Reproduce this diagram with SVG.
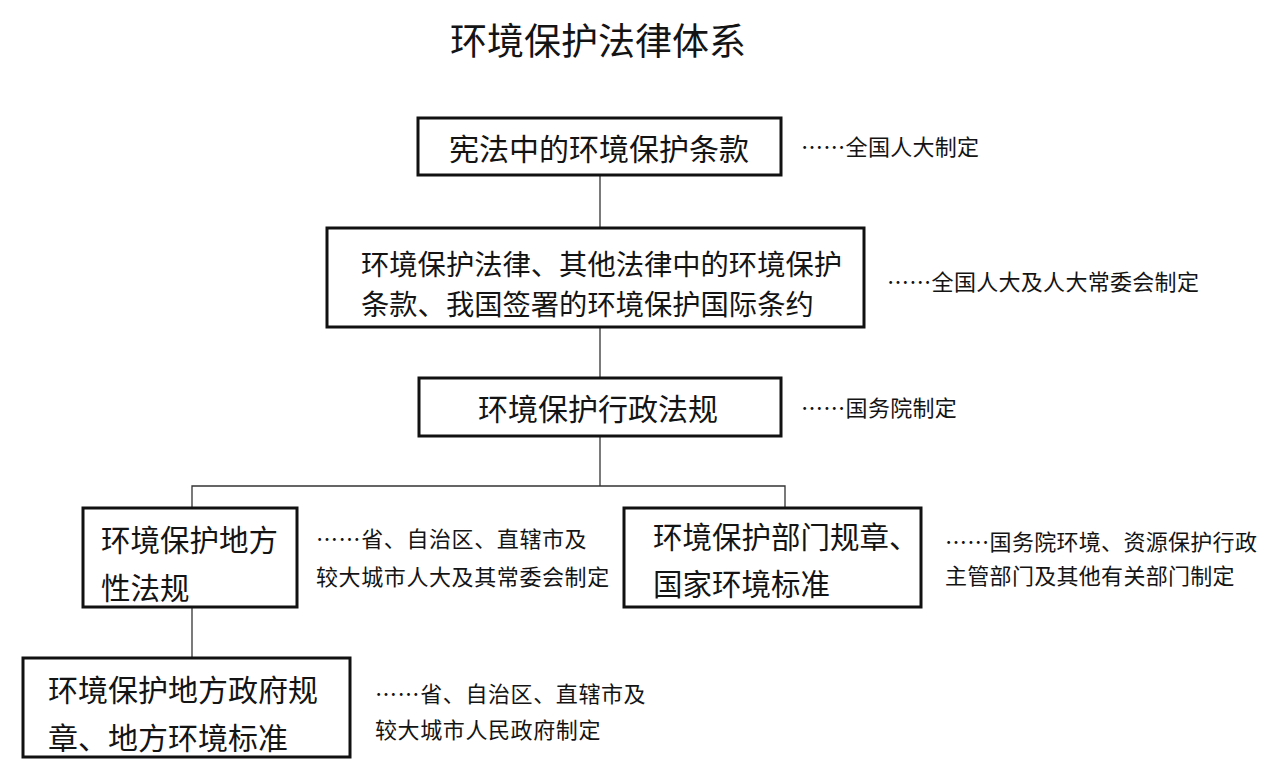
<svg xmlns="http://www.w3.org/2000/svg" width="1280" height="784" viewBox="0 0 1280 784">
<style>
text{font-family:"Noto Sans CJK SC","Noto Sans CJK JP",sans-serif;fill:#141414;dominant-baseline:central}
.box{fill:#fff;stroke:#111;stroke-width:3}
.t{font-size:29px}
.a{font-size:22px;letter-spacing:0.3px}
.title{font-size:37px}
.c{stroke:#333;stroke-width:1.3;fill:none}
</style>
<rect width="1280" height="784" fill="#fff"/>
<text class="title" x="598" y="39" text-anchor="middle">环境保护法律体系</text>
<g id="connectors">
<line class="c" x1="600" y1="175" x2="600" y2="228"/>
<line class="c" x1="600" y1="327" x2="600" y2="378"/>
<polyline class="c" points="600,436 600,486"/>
<polyline class="c" points="192,508 192,486 785,486 785,508"/>
<line class="c" x1="192" y1="607" x2="192" y2="658"/>
</g>
<g id="n1">
<rect class="box" x="418" y="118" width="363" height="57"/>
<text class="t" x="599" y="147" text-anchor="middle" style="font-size:30px">宪法中的环境保护条款</text>
<text class="a" x="801" y="145">……全国人大制定</text>
</g>
<g id="n2">
<rect class="box" x="327" y="228" width="537" height="99"/>
<text class="t" x="361" y="262" style="font-size:28.3px">环境保护法律、其他法律中的环境保护</text>
<text class="t" x="361" y="302" style="font-size:28.3px">条款、我国签署的环境保护国际条约</text>
<text class="a" x="887" y="280">……全国人大及人大常委会制定</text>
</g>
<g id="n3">
<rect class="box" x="419" y="378" width="362" height="58"/>
<text class="t" x="598" y="407" text-anchor="middle" style="font-size:30px">环境保护行政法规</text>
<text class="a" x="801" y="406">……国务院制定</text>
</g>
<g id="n4">
<rect class="box" x="83" y="508" width="214" height="99"/>
<text class="t" x="101" y="538" style="font-size:29.5px">环境保护地方</text>
<text class="t" x="101" y="586" style="font-size:29.5px">性法规</text>
<text class="a" x="316" y="537" style="letter-spacing:0.6px">……省、自治区、直辖市及</text>
<text class="a" x="316" y="575" style="letter-spacing:0.6px">较大城市人大及其常委会制定</text>
</g>
<g id="n5">
<rect class="box" x="624" y="508" width="297" height="99"/>
<text class="t" x="653" y="535" style="font-size:29.5px">环境保护部门规章、</text>
<text class="t" x="653" y="582" style="font-size:29.5px">国家环境标准</text>
<text class="a" x="945" y="540">……国务院环境、资源保护行政</text>
<text class="a" x="945" y="574">主管部门及其他有关部门制定</text>
</g>
<g id="n6">
<rect class="box" x="23" y="658" width="327" height="99"/>
<text class="t" x="48" y="688" style="font-size:30px">环境保护地方政府规</text>
<text class="t" x="48" y="736" style="font-size:30px">章、地方环境标准</text>
<text class="a" x="375" y="692" style="letter-spacing:0.6px">……省、自治区、直辖市及</text>
<text class="a" x="375" y="728" style="letter-spacing:0.6px">较大城市人民政府制定</text>
</g>
</svg>
